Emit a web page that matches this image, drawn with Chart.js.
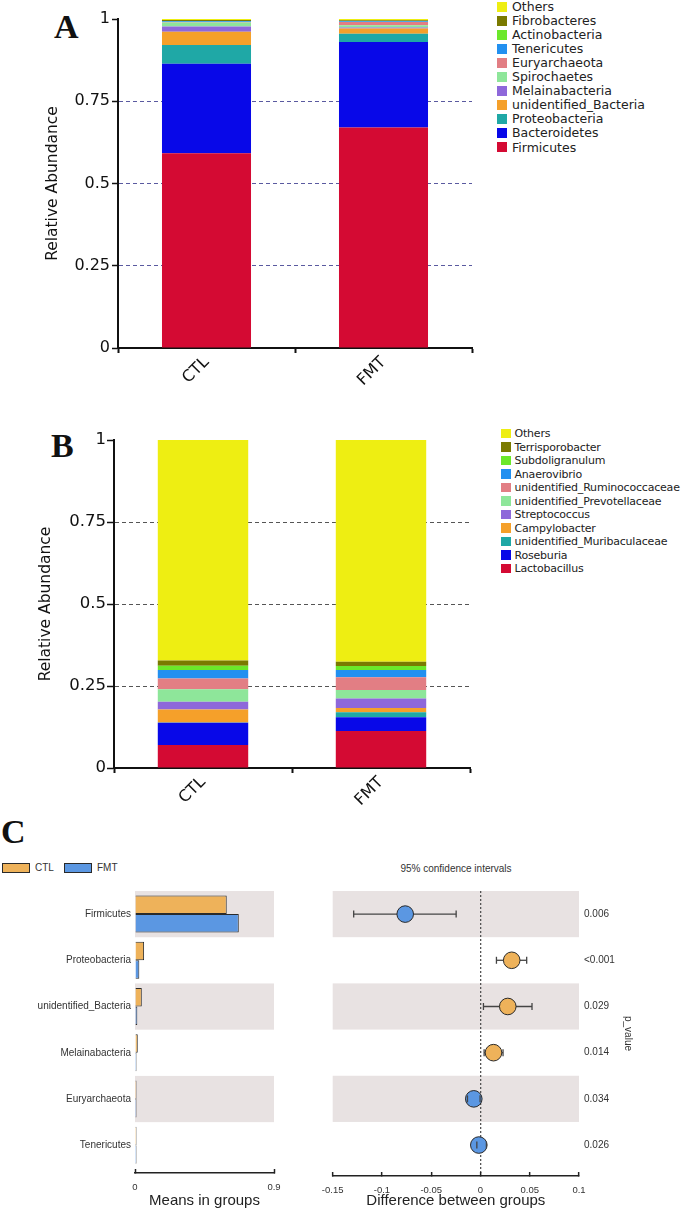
<!DOCTYPE html>
<html>
<head>
<meta charset="utf-8">
<title>Gut microbiota CTL vs FMT</title>
<script src="https://cdn.jsdelivr.net/npm/chart.js@4.4.1/dist/chart.umd.min.js"></script>
<style>
  body { margin: 0; background: #fff; }
  #page { position: relative; width: 689px; height: 1210px; overflow: hidden; background: #fff; color: #222; font-family: "DejaVu Sans", sans-serif; }
  .box { position: absolute; }
  .letter { position: absolute; font-family: "Liberation Serif", serif; font-weight: bold; font-size: 34px; line-height: 1; color: #111; }
  .leg { position: absolute; height: 14px; display: flex; align-items: center; white-space: nowrap; color: #222; }
  .sw { display: inline-block; flex: none; }
  .c-text { position: absolute; font-family: "Liberation Sans", sans-serif; font-size: 10px; color: #333; white-space: nowrap; }
  .c-box { position: absolute; width: 26px; height: 8px; border: 1px solid #2a2a2a; }
</style>
</head>
<body>
<div id="page">
  <div class="letter" style="left:54px;top:10px">A</div>
  <div class="letter" style="left:51px;top:429px">B</div>
  <div class="letter" style="left:1px;top:815px">C</div>

  <div class="box" style="left:0;top:0;width:480px;height:390px"><canvas id="phylumChart"></canvas></div>
  <div class="box" style="left:0;top:390px;width:480px;height:430px"><canvas id="genusChart"></canvas></div>
  <div class="box" style="left:0;top:880px;width:300px;height:330px"><canvas id="meanChart"></canvas></div>
  <div class="box" style="left:300px;top:880px;width:389px;height:330px"><canvas id="diffChart"></canvas></div>

  <div class="c-box" id="ctlBox" style="left:2px;top:863px"></div>
  <div class="c-text" style="left:35px;top:862px">CTL</div>
  <div class="c-box" id="fmtBox" style="left:64px;top:863px"></div>
  <div class="c-text" style="left:97px;top:862px">FMT</div>
  <div class="c-text" style="left:356px;top:863px;width:200px;text-align:center">95% confidence intervals</div>
</div>

<script>
const groups = ["CTL", "FMT"];
const abundanceTicks = [0, 0.25, 0.5, 0.75, 1];

// stacked from the bottom up
const phylumNames = ["Firmicutes", "Bacteroidetes", "Proteobacteria", "unidentified_Bacteria", "Melainabacteria",
  "Spirochaetes", "Euryarchaeota", "Tenericutes", "Actinobacteria", "Fibrobacteres", "Others"];
const phylumCTL = [0.592, 0.272, 0.057, 0.040, 0.016, 0.012, 0.002, 0.002, 0.001, 0.003, 0.003];
const phylumFMT = [0.670, 0.260, 0.025, 0.016, 0.003, 0.007, 0.010, 0.002, 0.001, 0.002, 0.004];

const genusNames = ["Lactobacillus", "Roseburia", "unidentified_Muribaculaceae", "Campylobacter", "Streptococcus",
  "unidentified_Prevotellaceae", "unidentified_Ruminococcaceae", "Anaerovibrio", "Subdoligranulum", "Terrisporobacter", "Others"];
const genusCTL = [0.070, 0.068, 0.001, 0.039, 0.024, 0.038, 0.033, 0.026, 0.013, 0.016, 0.672];
const genusFMT = [0.113, 0.042, 0.015, 0.013, 0.029, 0.026, 0.039, 0.022, 0.012, 0.013, 0.676];

const stackColors = ["#D40A33", "#0808E8", "#1FA8A6", "#F5A02A", "#8E68DA", "#8EE69A",
  "#E27E84", "#2290F0", "#6BE82A", "#7A7A00", "#EEEE12"];

// panel C : welch t-test between groups
const testTaxa = ["Firmicutes", "Proteobacteria", "unidentified_Bacteria", "Melainabacteria", "Euryarchaeota", "Tenericutes"];
const meanCTL = [0.594, 0.059, 0.044, 0.018, 0.003, 0.003];
const meanFMT = [0.672, 0.028, 0.015, 0.002, 0.008, 0.002];
const diffMean = [-0.0764, 0.0317, 0.0277, 0.0132, -0.0068, -0.0017];
const diffLow = [-0.1287, 0.0162, 0.0030, 0.0037, -0.0132, -0.0037];
const diffHigh = [-0.0247, 0.0469, 0.0523, 0.0229, -0.0004, 0.0060];
const pValues = ["0.006", "<0.001", "0.029", "0.014", "0.034", "0.026"];
const meanTicks = [0, 0.9];
const diffTicks = [-0.15, -0.1, -0.05, 0, 0.05, 0.1];

const ctlColor = "#EEB25A";
const fmtColor = "#5B97E2";
const bandColor = "#E8E2E2";

Chart.defaults.animation = false;
Chart.defaults.responsive = true;
Chart.defaults.maintainAspectRatio = false;
Chart.defaults.plugins.legend.display = false;
Chart.defaults.plugins.tooltip.enabled = false;

// grey bands behind every other row, shared by both halves of panel C
const rowBands = {
  id: "rowBands",
  beforeDraw(chart) {
    const { ctx, chartArea, scales } = chart;
    ctx.save();
    ctx.fillStyle = bandColor;
    testTaxa.forEach((t, i) => {
      if (i % 2) return;
      const top = scales.y.getPixelForValue(i - 0.5);
      const bottom = scales.y.getPixelForValue(i + 0.5);
      ctx.fillRect(chartArea.left, top, chartArea.right - chartArea.left, bottom - top);
    });
    ctx.restore();
  },
};

// confidence intervals: line behind the dot, caps on top
const errorBars = {
  id: "errorBars",
  beforeDatasetsDraw(chart) {
    const { ctx, scales } = chart;
    ctx.save();
    ctx.strokeStyle = "#444";
    ctx.lineWidth = 1.3;
    diffMean.forEach((m, i) => {
      const py = scales.y.getPixelForValue(i);
      ctx.beginPath();
      ctx.moveTo(scales.x.getPixelForValue(diffLow[i]), py);
      ctx.lineTo(scales.x.getPixelForValue(diffHigh[i]), py);
      ctx.stroke();
    });
    ctx.restore();
  },
  afterDatasetsDraw(chart) {
    const { ctx, scales } = chart;
    ctx.save();
    ctx.strokeStyle = "#444";
    ctx.lineWidth = 1.3;
    diffMean.forEach((m, i) => {
      const py = scales.y.getPixelForValue(i);
      [diffLow[i], diffHigh[i]].forEach((v) => {
        const px = scales.x.getPixelForValue(v);
        ctx.beginPath();
        ctx.moveTo(px, py - 3.5);
        ctx.lineTo(px, py + 3.5);
        ctx.stroke();
      });
    });
    ctx.restore();
  },
};

document.getElementById("ctlBox").style.background = ctlColor;
document.getElementById("fmtBox").style.background = fmtColor;

buildLegend(phylumNames, 497, 6.7, 14.03, 10, 5, 12.5, 0);
buildLegend(genusNames, 501, 433.7, 13.5, 9.5, 4, 11, -0.2);

makeStackChart("phylumChart", phylumNames, phylumCTL, phylumFMT, {
  top: 19, right: 8, yWidth: 118, xHeight: 42, barShare: 0.503,
  gridColor: "#5a5aa0", tickLen: 6, tickPad: 2, fontSize: 16, titlePad: 44,
});
makeStackChart("genusChart", genusNames, genusCTL, genusFMT, {
  top: 50, right: 10, yWidth: 114, xHeight: 52, barShare: 0.508,
  gridColor: "#555", tickLen: 7, tickPad: 1, fontSize: 16.5, titlePad: 37,
});
makeMeanChart();
makeDiffChart();

function buildLegend(names, left, firstCenter, step, box, gap, fontSize, spacing) {
  const page = document.getElementById("page");
  // legend lists the top of the stack first
  for (let k = names.length - 1, row = 0; k >= 0; k--, row++) {
    const item = document.createElement("div");
    item.className = "leg";
    item.style.left = left + "px";
    item.style.top = (firstCenter + row * step - 7) + "px";
    item.style.fontSize = fontSize + "px";
    item.style.letterSpacing = spacing + "px";
    item.innerHTML = `<span class="sw" style="width:${box}px;height:${box}px;margin-right:${gap}px;background:${stackColors[k]}"></span>${names[k]}`;
    page.appendChild(item);
  }
}

function makeStackChart(id, names, ctlVals, fmtVals, o) {
  const datasets = names.map((name, i) => ({
    label: name,
    data: [ctlVals[i], fmtVals[i]],
    backgroundColor: stackColors[i],
    borderWidth: 0,
    barPercentage: 1,
    categoryPercentage: o.barShare,
  }));

  return new Chart(document.getElementById(id), {
    type: "bar",
    data: { labels: groups, datasets: datasets },
    options: {
      layout: { padding: { top: o.top, right: o.right, left: 0, bottom: 0 } },
      scales: {
        x: {
          stacked: true,
          afterFit: (s) => { s.height = o.xHeight; },
          border: { color: "#111", width: 2 },
          grid: { color: "transparent", drawOnChartArea: false, offset: true, tickColor: "#111", tickLength: 5, tickWidth: 2 },
          ticks: { minRotation: 45, maxRotation: 45, padding: 0, color: "#111", font: { family: "DejaVu Sans", size: 16 } },
        },
        y: {
          stacked: true,
          min: 0,
          max: 1,
          afterFit: (s) => { s.width = o.yWidth; },
          afterBuildTicks: (s) => { s.ticks = abundanceTicks.map((v) => ({ value: v })); },
          border: { color: "#111", width: 2, dash: [4, 3] },
          grid: {
            color: (c) => (c.tick && c.tick.value > 0 && c.tick.value < 1 ? o.gridColor : "transparent"),
            lineWidth: 1,
            tickColor: "#111",
            tickLength: o.tickLen,
            tickWidth: 1.5,
            tickBorderDash: [],
          },
          ticks: { padding: o.tickPad, color: "#111", font: { family: "DejaVu Sans", size: o.fontSize }, callback: (v) => String(v) },
          title: { display: true, text: "Relative Abundance", color: "#111", font: { family: "DejaVu Sans", size: 15.5 }, padding: { top: o.titlePad, bottom: 0 } },
        },
      },
    },
  });
}

function makeMeanChart() {
  const barStyle = { borderColor: "#2a2a2a", borderWidth: 1, barPercentage: 1, categoryPercentage: 0.8, minBarLength: 1.5 };
  new Chart(document.getElementById("meanChart"), {
    type: "bar",
    data: {
      datasets: [
        { label: "CTL", data: meanCTL.map((v, i) => ({ x: v, y: i })), backgroundColor: ctlColor, ...barStyle },
        { label: "FMT", data: meanFMT.map((v, i) => ({ x: v, y: i })), backgroundColor: fmtColor, ...barStyle },
      ],
    },
    options: {
      indexAxis: "y",
      layout: { padding: { top: 11, right: 26, left: 0, bottom: 0 } },
      scales: {
        x: {
          type: "linear",
          min: 0,
          max: 0.9,
          afterFit: (s) => { s.height = 37; },
          afterBuildTicks: (s) => { s.ticks = meanTicks.map((v) => ({ value: v })); },
          border: { color: "#222", width: 1.5 },
          grid: { drawOnChartArea: false, tickColor: "#222", tickLength: -4, tickWidth: 1.5 },
          ticks: { padding: 13, color: "#333", font: { family: "Liberation Sans", size: 9.5 }, callback: (v) => String(v) },
          title: { display: true, text: "Means in groups", color: "#222", font: { family: "Liberation Sans", size: 15 }, padding: { top: 0, bottom: 0 } },
        },
        y: {
          type: "linear",
          offset: false,
          reverse: true,
          min: -0.5,
          max: 5.6,
          afterFit: (s) => { s.width = 135; },
          afterBuildTicks: (s) => { s.ticks = testTaxa.map((t, i) => ({ value: i })); },
          border: { display: false },
          grid: { display: false, drawTicks: false, offset: false },
          ticks: { padding: 4, color: "#333", font: { family: "Liberation Sans", size: 10 }, callback: (v) => testTaxa[v] },
        },
      },
    },
    plugins: [rowBands],
  });
}

function makeDiffChart() {
  new Chart(document.getElementById("diffChart"), {
    type: "scatter",
    data: {
      datasets: [{
        label: "Difference between groups",
        data: diffMean.map((v, i) => ({ x: v, y: i })),
        pointRadius: 8.3,
        pointBackgroundColor: diffMean.map((v) => (v > 0 ? ctlColor : fmtColor)),
        pointBorderColor: "#2a2a2a",
        pointBorderWidth: 1,
      }],
    },
    options: {
      layout: { padding: { top: 11, right: 45, left: 32.7, bottom: 0 } },
      scales: {
        x: {
          type: "linear",
          min: -0.15,
          max: 0.1,
          afterFit: (s) => { s.height = 34; },
          afterBuildTicks: (s) => { s.ticks = diffTicks.map((v) => ({ value: v })); },
          border: { color: "#222", width: 1.5, dash: [2, 2] },
          grid: {
            color: (c) => (c.tick && c.tick.value === 0 ? "#555" : "transparent"),
            lineWidth: 1.3,
            tickColor: "#222",
            tickLength: -4,
            tickWidth: 1.5,
            tickBorderDash: [],
          },
          ticks: { padding: 13, color: "#333", font: { family: "Liberation Sans", size: 9.5 }, callback: (v) => String(v) },
          title: { display: true, text: "Difference between groups", color: "#222", font: { family: "Liberation Sans", size: 15 }, padding: { top: 0, bottom: 0 } },
        },
        y: { type: "linear", display: false, reverse: true, min: -0.5, max: 5.67 },
        p: {
          type: "linear",
          position: "right",
          reverse: true,
          min: -0.5,
          max: 5.67,
          afterFit: (s) => { s.width = 65; },
          afterBuildTicks: (s) => { s.ticks = pValues.map((p, i) => ({ value: i })); },
          border: { display: false },
          grid: { display: false, drawTicks: false },
          ticks: { padding: 5, color: "#333", font: { family: "Liberation Sans", size: 10 }, callback: (v) => pValues[v] },
          title: { display: true, text: "p_value", color: "#333", font: { family: "Liberation Sans", size: 10 }, padding: { top: 10, bottom: 0 } },
        },
      },
    },
    plugins: [rowBands, errorBars],
  });
}
</script>
</body>
</html>
